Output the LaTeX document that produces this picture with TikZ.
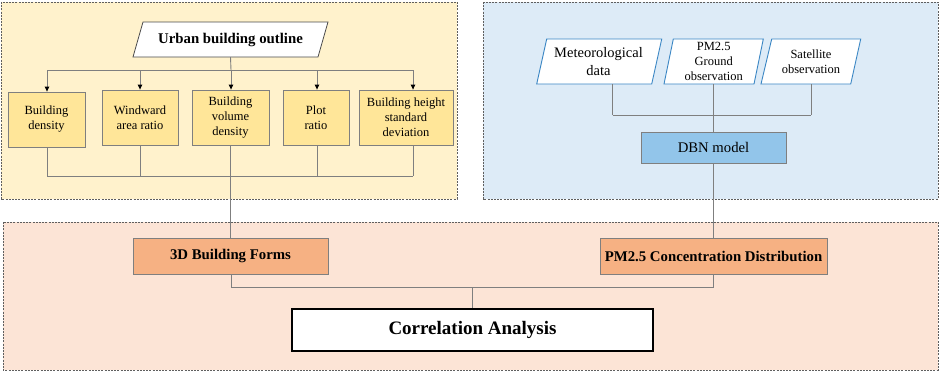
\documentclass[tikz,border=0pt]{standalone}
\usepackage{fontspec}
\setmainfont{Liberation Serif}
\usetikzlibrary{arrows.meta}
\definecolor{ylpanel}{HTML}{FFF2CC}
\definecolor{ylbox}{HTML}{FFE699}
\definecolor{blpanel}{HTML}{DDEBF7}
\definecolor{blbox}{HTML}{92C5EA}
\definecolor{orpanel}{HTML}{FCE4D6}
\definecolor{orbox}{HTML}{F6B183}
\definecolor{edgegray}{HTML}{7F7F7F}
\definecolor{paneledge}{HTML}{5F5F5F}
\definecolor{blueedge}{HTML}{3A86C4}
\tikzset{
  panel/.style={draw=paneledge, line width=1pt, dash pattern=on 2pt off 1.2pt},
  ybox/.style={draw=edgegray, fill=ylbox, line width=0.8pt, inner sep=0pt, align=center,
    font=\fontsize{12.5}{15}\selectfont},
  obox/.style={draw=edgegray, fill=orbox, line width=0.8pt, inner sep=0pt, align=center,
    font=\fontsize{14.8}{17}\selectfont\bfseries},
  txt/.style={inner sep=0pt, align=center},
  conn/.style={draw=edgegray, line width=0.9pt},
  arr/.style={conn, -{Triangle[length=5pt,width=4.5pt,color=black]}},
  upara/.style={draw=black!70, fill=white, line width=0.8pt},
  bpara/.style={draw=blueedge, fill=white, line width=0.9pt},
}
\begin{document}
\begin{tikzpicture}[x=1pt,y=-1pt]
\useasboundingbox (0,0) rectangle (941,372);
\fill[white] (0,0) rectangle (941,372);
% panels
\path[panel, fill=ylpanel] (1,2) rectangle (457,199);
\path[panel, fill=blpanel] (483,2) rectangle (938,199);
\path[panel, fill=orpanel] (3,222) rectangle (938,370);

% urban building outline
\path[upara] (143,22) -- (328,22) -- (318,57) -- (133,57) -- cycle;
\node[txt, minimum width=185pt, minimum height=35pt, font=\fontsize{14.8}{17}\selectfont\bfseries] (ubo) at (230.5,39.5) {Urban building outline};

% yellow boxes
\node[ybox, minimum width=77pt, minimum height=55pt] (bd) at (46.5,119.5) {Building\\density};
\node[ybox, minimum width=76pt, minimum height=55pt] (wa) at (140,117.5) {Windward\\area ratio};
\node[ybox, minimum width=77pt, minimum height=55pt] (bv) at (230.5,117.5) {Building\\volume\\density};
\node[ybox, minimum width=66pt, minimum height=55pt] (pr) at (316,117.5) {Plot\\ratio};
\node[ybox, minimum width=94pt, minimum height=55pt] (bh) at (406,117.5) {Building height\\standard\\deviation};

% top bus
\coordinate (tb1) at (47,70);
\coordinate (tb2) at (140,70);
\coordinate (tb3) at (231,70);
\coordinate (tb4) at (317,70);
\coordinate (tb5) at (413,70);
\draw[conn] (ubo.south) -- (tb3);
\draw[conn] (tb1) -- (tb5);
\draw[arr] (tb1) -- (tb1 |- bd.north);
\draw[arr] (tb2) -- (tb2 |- wa.north);
\draw[arr] (tb3) -- (tb3 |- bv.north);
\draw[arr] (tb4) -- (tb4 |- pr.north);
\draw[arr] (tb5) -- (tb5 |- bh.north);

% bottom bus
\coordinate (lb1) at (47,176);
\coordinate (lb2) at (140,176);
\coordinate (lb4) at (317,176);
\coordinate (lb5) at (413,176);
\draw[conn] (lb1) -- (lb5);
\draw[conn] (lb1 |- bd.south) -- (lb1);
\draw[conn] (lb2 |- wa.south) -- (lb2);
\draw[conn] (lb4 |- pr.south) -- (lb4);
\draw[conn] (lb5 |- bh.south) -- (lb5);

% blue parallelograms
\path[bpara] (546.7,39) -- (661.7,39) -- (651.7,84) -- (536.7,84) -- cycle;
\node[txt, minimum width=115pt, minimum height=45pt, font=\fontsize{14.5}{17.5}\selectfont] (met) at (598.5,61.5) {Meteorological\\data};
\path[bpara] (673.3,39) -- (763.3,39) -- (754,84) -- (664,84) -- cycle;
\node[txt, minimum width=90pt, minimum height=45pt, font=\fontsize{12.5}{15}\selectfont] (pmg) at (713.7,61.5) {PM2.5\\Ground\\observation};
\path[bpara] (771.7,39) -- (860.7,39) -- (850.7,84) -- (761,84) -- cycle;
\node[txt, minimum width=89.5pt, minimum height=45pt, font=\fontsize{12.5}{15.5}\selectfont] (sat) at (811,61.5) {Satellite\\observation};

\node[draw=edgegray, fill=blbox, line width=0.8pt, inner sep=0pt, minimum width=145pt, minimum height=31pt, font=\fontsize{14.7}{17}\selectfont] (dbn) at (713.5,147.5) {DBN model};

\coordinate (bb1) at (612.7,115);
\coordinate (bb2) at (713.7,115);
\coordinate (bb3) at (811,115);
\draw[conn] (bb1) -- (bb3);
\draw[conn] (bb1 |- met.south) -- (bb1);
\draw[conn] (pmg.south) -- (bb2);
\draw[conn] (sat.south) -- (bb3);
\draw[conn] (bb2) -- (bb2 |- dbn.north);

% orange boxes
\node[obox, minimum width=195pt, minimum height=36pt] (bf) at (230.5,256) {3D Building Forms};
\node[obox, minimum width=227pt, minimum height=36pt] (pmc) at (713.5,256) {PM2.5 Concentration Distribution};

\draw[conn] (bv.south) -- (bv.south |- bf.north);
\draw[conn] (dbn.south) -- (dbn.south |- pmc.north);

% correlation
\node[draw=black, fill=white, line width=2.5pt, inner sep=0pt, minimum width=361pt, minimum height=42pt, font=\fontsize{19}{22}\selectfont\bfseries] (ca) at (472.5,330) {Correlation Analysis};

\coordinate (cb1) at (231,287);
\coordinate (cb2) at (713.5,287);
\coordinate (cb3) at (472,287);
\draw[conn] (bf.south -| cb1) -- (cb1) -- (cb2) -- (pmc.south -| cb2);
\draw[conn] (cb3) -- (cb3 |- ca.north);
\end{tikzpicture}
\end{document}
